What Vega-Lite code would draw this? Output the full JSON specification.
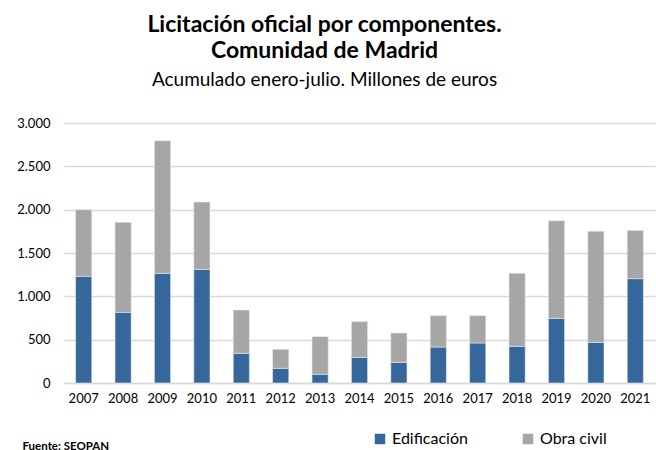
{
  "$schema": "https://vega.github.io/schema/vega-lite/v6.json",
  "width": 591,
  "height": 260,
  "autosize": "none",
  "padding": {"left": 64, "top": 123, "right": 1, "bottom": 67},
  "background": "white",
  "config": {
    "font": "Lato",
    "locale": {"number": {"decimal": ",", "thousands": ".", "grouping": [3], "currency": ["", " €"]}},
    "view": {"stroke": null}
  },
  "title": {
    "text": ["Licitación oficial por componentes.", "Comunidad de Madrid"],
    "subtitle": "Acumulado enero-julio. Millones de euros",
    "anchor": "middle",
    "dx": -35,
    "offset": 27,
    "font": "Lato",
    "fontSize": 23,
    "fontWeight": "bold",
    "color": "#000000",
    "lineHeight": 26,
    "subtitleFont": "Lato",
    "subtitleFontSize": 19,
    "subtitleColor": "#000000",
    "subtitlePadding": 8
  },
  "data": {
    "values": [
      {"year": "2007", "comp": "Edificación", "v": 1231},
      {"year": "2007", "comp": "Obra civil", "v": 769},
      {"year": "2008", "comp": "Edificación", "v": 815},
      {"year": "2008", "comp": "Obra civil", "v": 1039},
      {"year": "2009", "comp": "Edificación", "v": 1265},
      {"year": "2009", "comp": "Obra civil", "v": 1531},
      {"year": "2010", "comp": "Edificación", "v": 1311},
      {"year": "2010", "comp": "Obra civil", "v": 777},
      {"year": "2011", "comp": "Edificación", "v": 342},
      {"year": "2011", "comp": "Obra civil", "v": 500},
      {"year": "2012", "comp": "Edificación", "v": 169},
      {"year": "2012", "comp": "Obra civil", "v": 219},
      {"year": "2013", "comp": "Edificación", "v": 100},
      {"year": "2013", "comp": "Obra civil", "v": 435},
      {"year": "2014", "comp": "Edificación", "v": 296},
      {"year": "2014", "comp": "Obra civil", "v": 412},
      {"year": "2015", "comp": "Edificación", "v": 238},
      {"year": "2015", "comp": "Obra civil", "v": 339},
      {"year": "2016", "comp": "Edificación", "v": 415},
      {"year": "2016", "comp": "Obra civil", "v": 362},
      {"year": "2017", "comp": "Edificación", "v": 462},
      {"year": "2017", "comp": "Obra civil", "v": 315},
      {"year": "2018", "comp": "Edificación", "v": 423},
      {"year": "2018", "comp": "Obra civil", "v": 842},
      {"year": "2019", "comp": "Edificación", "v": 746},
      {"year": "2019", "comp": "Obra civil", "v": 1127},
      {"year": "2020", "comp": "Edificación", "v": 469},
      {"year": "2020", "comp": "Obra civil", "v": 1281},
      {"year": "2021", "comp": "Edificación", "v": 1204},
      {"year": "2021", "comp": "Obra civil", "v": 557}
    ]
  },
  "mark": {"type": "bar", "stroke": "#e6e6e6", "strokeWidth": 0.6},
  "encoding": {
    "x": {
      "field": "year",
      "type": "ordinal",
      "scale": {"paddingInner": 0.59, "paddingOuter": 0.295},
      "axis": {
        "title": "Fuente: SEOPAN",
        "titleAnchor": "start",
        "titleAlign": "left",
        "titleBaseline": "alphabetic",
        "titleX": -42,
        "titleY": 66,
        "titleFontSize": 11.5,
        "titleFontWeight": "bold",
        "titleColor": "#000000",
        "titleFont": "Lato",
        "labelAngle": 0,
        "labelFontSize": 13,
        "labelColor": "#000000",
        "labelPadding": 9,
        "ticks": false,
        "domainColor": "#d9d9d9",
        "domainWidth": 1.5
      }
    },
    "y": {
      "field": "v",
      "type": "quantitative",
      "aggregate": "sum",
      "stack": "zero",
      "scale": {"domain": [0, 3000], "nice": false},
      "axis": {
        "title": null,
        "values": [0, 500, 1000, 1500, 2000, 2500, 3000],
        "format": ",.0f",
        "labelFontSize": 13,
        "labelColor": "#000000",
        "labelPadding": 14,
        "ticks": false,
        "domain": false,
        "gridColor": "#d9d9d9",
        "gridWidth": 1.5
      }
    },
    "color": {
      "field": "comp",
      "type": "nominal",
      "scale": {"domain": ["Edificación", "Obra civil"], "range": ["#35679A", "#A6A6A6"]},
      "legend": {
        "title": null,
        "orient": "none",
        "direction": "horizontal",
        "legendX": 308,
        "legendY": 308,
        "symbolType": "square",
        "symbolSize": 110,
        "symbolStrokeWidth": 0,
        "labelFontSize": 16,
        "labelColor": "#000000",
        "labelOffset": 4,
        "columnPadding": 52
      }
    },
    "order": {"field": "comp", "sort": "ascending"}
  }
}
